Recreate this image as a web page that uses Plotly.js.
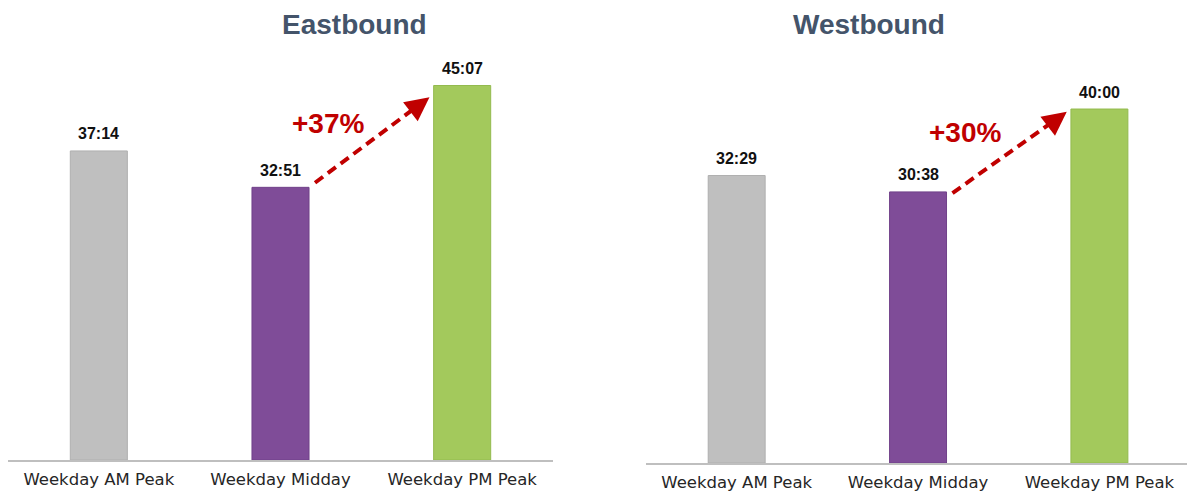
<!DOCTYPE html>
<html>
<head>
<meta charset="utf-8">
<script src="https://cdn.plot.ly/plotly-3.0.1.min.js"></script>
<style>html,body{margin:0;padding:0;background:#fff;}#chart{width:1187px;height:493px;}</style>
</head>
<body>
<div id="chart"></div>
<script>
// ---- data ----
const categories = ["Weekday AM Peak", "Weekday Midday", "Weekday PM Peak"];
const eastTimes = ["37:14", "32:51", "45:07"];
const westTimes = ["32:29", "30:38", "40:00"];
const panelTitles = ["Eastbound", "Westbound"];
const changeLabels = ["+37%", "+30%"];
const barColors = ["#BFBFBF", "#7F4C98", "#A3C95C"];
const barLines = ["#AFAFAF", "#70418A", "#93BA4E"];

const toMin = s => { const p = s.split(":"); return +p[0] + (+p[1]) / 60; };
const eastVals = eastTimes.map(toMin);
const westVals = westTimes.map(toMin);

const red = "#C00000";
const traces = [];
const annotations = [];
const shapes = [];

function panel(vals, labels, xa, ya, title, titleX, change, arrow) {
  traces.push({
    type: "bar", x: categories, y: vals, xaxis: xa, yaxis: ya,
    width: 0.314,
    marker: {color: barColors, line: {color: barLines, width: 1}},
    hoverinfo: "skip", showlegend: false
  });
  categories.forEach((c, i) => {
    annotations.push({
      xref: xa, yref: ya, x: i, y: vals[i], text: "<b>" + labels[i] + "</b>",
      showarrow: false, yanchor: "middle", yshift: 17,
      font: {family: "Liberation Sans, Arial, sans-serif", size: 16, color: "#111"}
    });
  });
  // dashed trend arrow from midday bar towards PM bar
  const x0 = 1.19, y0 = vals[1] + arrow[0];
  const x1 = 1.82, y1 = vals[2] + arrow[1];
  const f = 0.07;
  shapes.push({
    type: "line", xref: xa, yref: ya,
    x0: x0, y0: y0, x1: x1 - f, y1: y1 - (y1 - y0) * f / (x1 - x0),
    line: {color: red, width: 4, dash: "10px,6px"}
  });
  annotations.push({
    xref: xa, yref: ya, x: x1, y: y1, ax: -15, ay: 11.5, axref: "pixel", ayref: "pixel",
    text: "", showarrow: true, arrowhead: 2, arrowsize: 1.2, arrowwidth: 4, arrowcolor: red, standoff: 0
  });
  annotations.push({
    xref: xa, yref: ya, x: 1.26, y: (y0 + y1) / 2 + arrow[2], text: "<b>" + change + "</b>",
    showarrow: false, font: {family: "Liberation Sans, Arial, sans-serif", size: 28, color: red}
  });
  annotations.push({
    xref: "paper", yref: "paper", x: titleX, y: 1 - 24 / 493, yanchor: "middle",
    text: "<b>" + title + "</b>", showarrow: false,
    font: {family: "Liberation Sans, Arial, sans-serif", size: 28, color: "#44546A"}
  });
}

panel(eastVals, eastTimes, "x", "y", panelTitles[0], 280 / 1187, changeLabels[0], [0.55, -1.4, 2.0]);
panel(westVals, westTimes, "x2", "y2", panelTitles[1], 947 / 1187, changeLabels[1], [-0.13, -0.3, 2.3]);

const xbase = {
  type: "category", showgrid: false, zeroline: false, showline: true,
  linecolor: "#BFBFBF", linewidth: 2, ticks: "", fixedrange: true,
  tickfont: {family: "DejaVu Sans, sans-serif", size: 16.5, color: "#262626"},
  ticklabelstandoff: 3
};
const ybase = {showgrid: false, zeroline: false, showline: false, showticklabels: false, ticks: "", fixedrange: true};

const layout = {
  width: 1187, height: 493,
  margin: {l: 0, r: 0, t: 0, b: 0},
  paper_bgcolor: "#fff", plot_bgcolor: "#fff",
  xaxis: Object.assign({}, xbase, {domain: [8 / 1187, 553 / 1187], range: [-0.5, 2.5], anchor: "y"}),
  yaxis: Object.assign({}, ybase, {domain: [33 / 493, 433 / 493], range: [0, 48.19], anchor: "x"}),
  xaxis2: Object.assign({}, xbase, {domain: [646 / 1187, 1], range: [-0.5, 2.483], anchor: "y2"}),
  yaxis2: Object.assign({}, ybase, {domain: [30 / 493, 433 / 493], range: [0, 45.54], anchor: "x2"}),
  annotations: annotations,
  shapes: shapes,
  showlegend: false
};

Plotly.newPlot("chart", traces, layout, {staticPlot: true, displayModeBar: false});
</script>
</body>
</html>
